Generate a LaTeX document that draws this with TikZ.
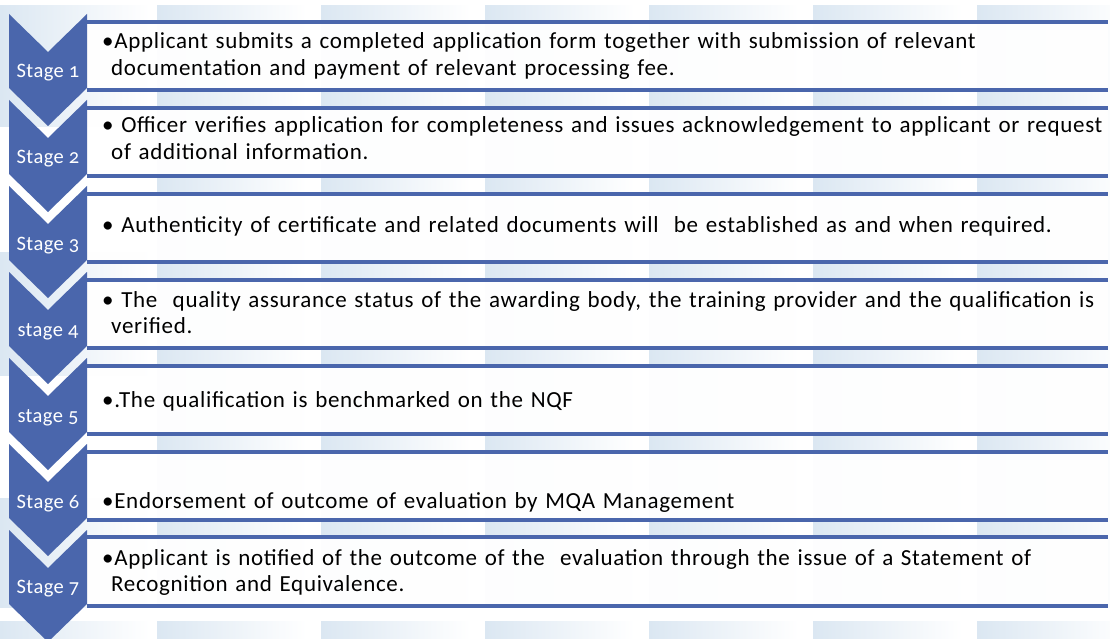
\documentclass[tikz,border=0pt]{standalone}
\usepackage{fontspec}
\setmainfont{Carlito}[LetterSpace=3]
\newfontfamily\labelfont[Numbers=OldStyle,LetterSpace=2]{Carlito}
\definecolor{chev}{RGB}{74,102,172}
\definecolor{tile}{RGB}{219,231,242}
\newcommand\hang{\newline\hspace*{9pt}}
\begin{document}
\begin{tikzpicture}[x=1pt,y=-1pt,
  tileshade/.style={left color=tile,right color=white},
  chevron/.style={fill=chev},
  stagelabel/.style={text=white,font=\labelfont\fontsize{20.5}{24}\selectfont,anchor=base,inner sep=0pt},
  boxbg/.style={fill=white,fill opacity=0.95,inner sep=0pt,anchor=north west,minimum width=1021pt,minimum height=68pt},
  rule/.style={draw=chev,line width=4pt},
  desc/.style={anchor=base west,inner sep=0pt,text width=1006pt,align=left,font=\fontsize{23}{26.5}\selectfont}
]
\useasboundingbox (0,0) rectangle (1110,639);
\clip (0,0) rectangle (1110,639);
% background tiles
\foreach \x in {157,321,485,649,813,977}{
  \shade[tileshade] (\x,6) rectangle ++(150,601);
  \shade[tileshade] (\x,621) rectangle ++(150,18);
}
\shade[tileshade] (0,6) rectangle (150,127);
\shade[tileshade] (0,252) rectangle (150,375);
\shade[tileshade] (0,498) rectangle (150,607);
\shade[tileshade] (0,621) rectangle (150,639);
% boxes
\foreach \k in {1,...,7}{
  \pgfmathsetmacro\ytop{22+85.9*(\k-1)}
  \node[boxbg] (b\k) at (87,\ytop) {};
  \draw[rule] (b\k.north west) -- (b\k.north east);
  \draw[rule] (b\k.south west) -- (b\k.south east);
}
% chevrons
\foreach \k in {0,...,6}{
  \pgfmathsetmacro\yy{14+86*\k}
  \fill[chevron] (9,\yy) -- (48,{\yy+38}) -- (87,\yy) -- (87,{\yy+74}) -- (48,{\yy+112}) -- (9,{\yy+74}) -- cycle;
}
% stage labels
\node[stagelabel] (s1) at (48,78) {Stage 1};
\node[stagelabel] (s2) at (48,164) {Stage 2};
\node[stagelabel] (s3) at (48,250) {Stage 3};
\node[stagelabel] (s4) at (48,336) {stage 4};
\node[stagelabel] (s5) at (48,422) {stage 5};
\node[stagelabel] (s6) at (48,508) {Stage 6};
\node[stagelabel] (s7) at (48,593) {Stage 7};
% descriptions
\node[desc] (t1) at (102,49) {•Applicant submits a completed application form together with submission of relevant\hang documentation and payment of relevant processing fee.};
\node[desc] (t2) at (102,133) {• Officer verifies application for completeness and issues acknowledgement to applicant or request\hang of additional information.};
\node[desc] (t3) at (102,232) {• Authenticity of certificate and related documents will\ \ be established as and when required.};
\node[desc] (t4) at (102,307) {• The\ \ quality assurance status of the awarding body, the training provider and the qualification is\hang verified.};
\node[desc] (t5) at (102,407) {•.The qualification is benchmarked on the NQF};
\node[desc] (t6) at (102,508) {•Endorsement of outcome of evaluation by MQA Management};
\node[desc] (t7) at (102,565) {•Applicant is notified of the outcome of the\ \ evaluation through the issue of a Statement of\hang Recognition and Equivalence.};
\end{tikzpicture}
\end{document}
